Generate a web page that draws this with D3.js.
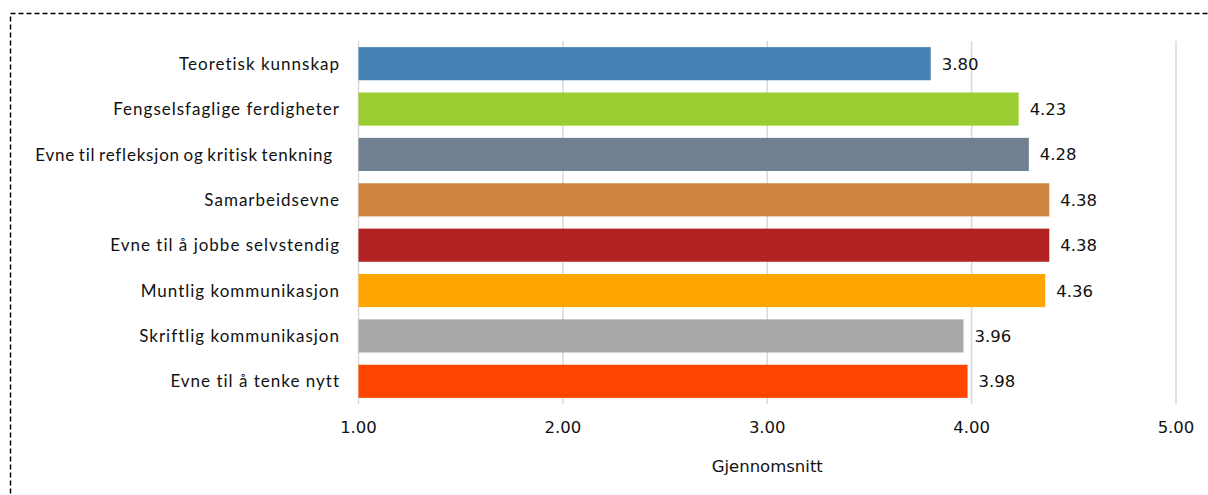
<!DOCTYPE html>
<html>
<head>
<meta charset="utf-8">
<script src="https://cdn.jsdelivr.net/npm/d3@7"></script>
<style>
  body { margin: 0; background: #fff; }
  .cat { font-family: Lato, "Open Sans", sans-serif; font-size: 17px; letter-spacing: 1px; fill: #111; }
  .num { font-family: "DejaVu Sans", sans-serif; font-size: 16.5px; fill: #111; }
</style>
</head>
<body>
<div id="chart"></div>
<script>
// data
var categories = [
  "Teoretisk kunnskap",
  "Fengselsfaglige ferdigheter",
  "Evne til refleksjon og kritisk tenkning",
  "Samarbeidsevne",
  "Evne til å jobbe selvstendig",
  "Muntlig kommunikasjon",
  "Skriftlig kommunikasjon",
  "Evne til å tenke nytt"
];
var values = [3.80, 4.23, 4.28, 4.38, 4.38, 4.36, 3.96, 3.98];
var colors = ["#4682B4", "#9ACD32", "#708090", "#CD853F", "#B22222", "#FFA500", "#A9A9A9", "#FF4500"];
var xTicks = [1, 2, 3, 4, 5];
var xTitle = "Gjennomsnitt";

var width = 1208, height = 495;
var margin = { top: 41, left: 358.5, right: 32, bottom: 91 };

var svg = d3.select("#chart").append("svg")
  .attr("width", width)
  .attr("height", height);

// dashed frame (runs off the right and bottom edges)
svg.append("rect")
  .attr("x", 10.5).attr("y", 13.5)
  .attr("width", 1220).attr("height", 520)
  .attr("fill", "none")
  .attr("stroke", "#000")
  .attr("stroke-width", 1.5)
  .attr("stroke-dasharray", "5,3");

var x = d3.scaleLinear().domain([1, 5]).range([margin.left, width - margin.right]);
var y = d3.scaleBand().domain(categories)
  .range([margin.top, height - margin.bottom])
  .paddingInner(0.27).paddingOuter(0.135);

// gridlines
svg.append("g").selectAll("line")
  .data(xTicks)
  .join("line")
  .attr("x1", d => x(d)).attr("x2", d => x(d))
  .attr("y1", margin.top).attr("y2", height - margin.bottom)
  .attr("stroke", "#d9d9d9")
  .attr("stroke-width", 1.5);

// bars
svg.append("g").selectAll("rect")
  .data(values)
  .join("rect")
  .attr("x", x(1))
  .attr("y", (d, i) => y(categories[i]))
  .attr("width", d => x(d) - x(1))
  .attr("height", y.bandwidth())
  .attr("fill", (d, i) => colors[i]);

// value labels
svg.append("g").selectAll("text")
  .data(values)
  .join("text")
  .attr("class", "num")
  .attr("x", d => x(d) + 11)
  .attr("y", (d, i) => y(categories[i]) + y.bandwidth() / 2)
  .attr("dy", "0.36em")
  .text(d => d.toFixed(2));

// category labels (the long one is squeezed like in the original)
svg.append("g").selectAll("text")
  .data(categories)
  .join("text")
  .attr("class", "cat")
  .attr("x", d => d.startsWith("Evne til refleksjon") ? 333 : 340)
  .attr("y", d => y(d) + y.bandwidth() / 2)
  .attr("dy", "0.36em")
  .attr("text-anchor", "end")
  .style("letter-spacing", d => d.startsWith("Evne til refleksjon") ? "0.8px" : null)
  .style("word-spacing", d => d.startsWith("Evne til refleksjon") ? "-1.5px" : null)
  .text(d => d);

// x tick labels
svg.append("g").selectAll("text")
  .data(xTicks)
  .join("text")
  .attr("class", "num")
  .attr("x", d => x(d))
  .attr("y", 427)
  .attr("dy", "0.36em")
  .attr("text-anchor", "middle")
  .text(d => d.toFixed(2));

svg.append("text")
  .attr("class", "num")
  .attr("x", x(3))
  .attr("y", 466)
  .attr("dy", "0.36em")
  .attr("text-anchor", "middle")
  .text(xTitle);
</script>
</body>
</html>
